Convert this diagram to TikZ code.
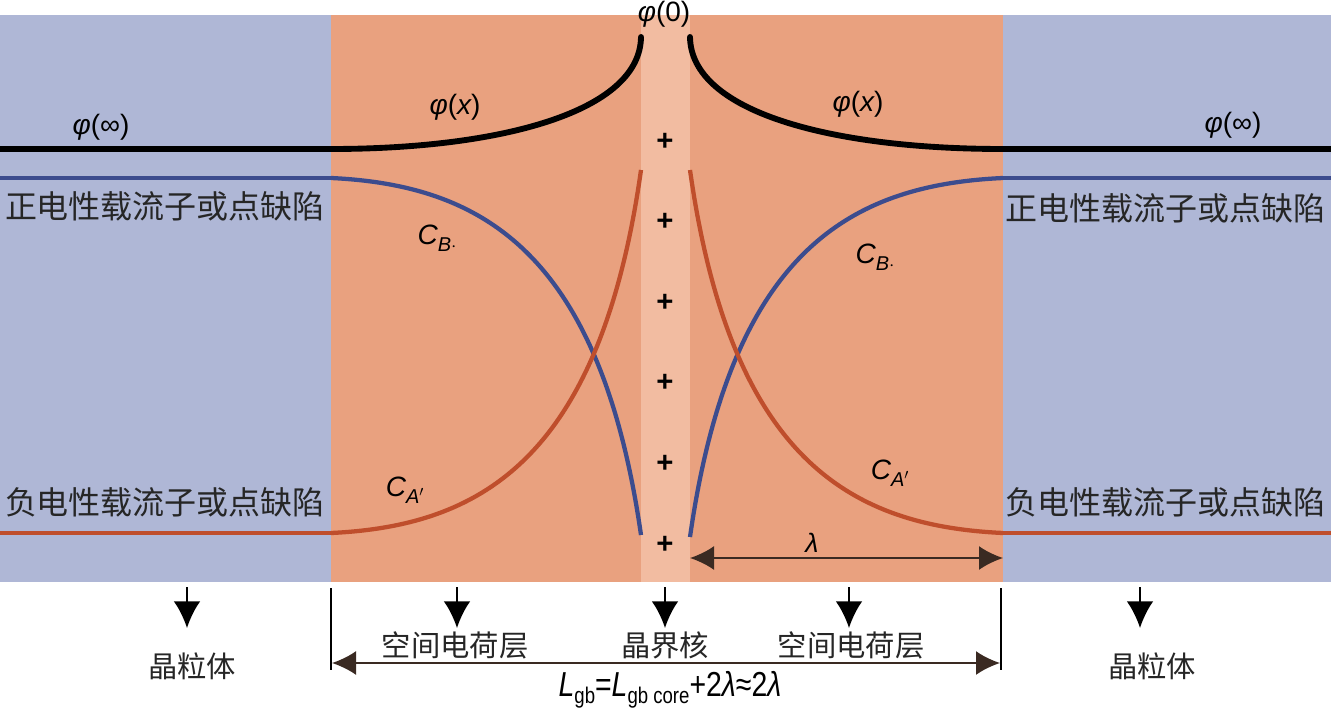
\documentclass[tikz,border=0pt]{standalone}
\usepackage{fontspec}
\setmainfont{Liberation Sans}
\newfontfamily\cjk{Noto Sans CJK SC}
\usetikzlibrary{arrows.meta}
\definecolor{grainblue}{HTML}{AFB7D6}
\definecolor{sclorange}{HTML}{E9A17F}
\definecolor{corepink}{HTML}{F2BCA1}
\definecolor{lineblue}{HTML}{3C4C8E}
\definecolor{linered}{HTML}{BF4E2C}
\definecolor{dimcol}{HTML}{3A2A22}
\begin{document}
\begin{tikzpicture}[x=0.75pt,y=-0.75pt,
  cnside/.style={font=\cjk\fontsize{24}{24}\selectfont, text=black!85, inner sep=0pt},
  cnbot/.style={font=\cjk\fontsize{22}{22}\selectfont, text=black!85, inner sep=0pt},
  sym/.style={font=\fontsize{21}{21}\selectfont, inner sep=0pt},
  plus/.style={font=\bfseries\fontsize{22}{22}\selectfont, inner sep=0pt},
  blackcurve/.style={line width=4.4pt, black, line cap=round},
  bluecurve/.style={line width=3.2pt, lineblue},
  redcurve/.style={line width=3.2pt, linered},
  downarr/.style={-{Latex[length=20pt,width=20pt]}, line width=1.8pt},
  dimarr/.style={{Latex[length=18pt,width=18pt]}-{Latex[length=18pt,width=18pt]}, line width=1.6pt, dimcol},
  bar/.style={line width=1.8pt}]
\useasboundingbox (0,0) rectangle (1331,710);
% panels
\fill[grainblue] (0,15) rectangle (331,582);
\fill[sclorange] (331,15) rectangle (641,582);
\fill[corepink] (641,15) rectangle (690,582);
\fill[sclorange] (690,15) rectangle (1003,582);
\fill[grainblue] (1003,15) rectangle (1331,582);
% flat lines in grains
\draw[blackcurve, line cap=butt] (0,149) -- (331,149);
\draw[blackcurve, line cap=butt] (1003,149) -- (1331,149);
\draw[bluecurve] (0,178) -- (331,178);
\draw[bluecurve] (1003,178) -- (1331,178);
\draw[redcurve] (0,533) -- (331,533);
\draw[redcurve] (1003,533) -- (1331,533);
% potential curves
\draw[blackcurve] (331,149) .. controls (500,149) and (640,112) .. (641,37);
\draw[blackcurve] (690,37) .. controls (691,112) and (831,149) .. (1003,149);
% concentration curves
\draw[bluecurve] (331,178) .. controls (480,185) and (600,250) .. (641,535);
\draw[redcurve] (331,533) .. controls (480,526) and (600,460) .. (641,170);
\draw[bluecurve] (690,537) .. controls (731,250) and (851,185) .. (1003,178);
\draw[redcurve] (690,170) .. controls (731,460) and (851,526) .. (1003,533);
% plus signs
\foreach \yy/\nm in {142/p1,222/p2,303/p3,383/p4,464/p5,545/p6}
  \node[plus] (\nm) at (665,\yy) {+};
% labels
\node[sym] (phi0) at (664,14) {\itshape φ\upshape(0)};
\node[sym] (phiinfL) at (101,127) {\itshape φ\upshape(∞)};
\node[sym] (phiinfR) at (1233,125) {\itshape φ\upshape(∞)};
\node[sym] (phixL) at (455,107) {\itshape φ\upshape(\itshape x\upshape)};
\node[sym] (phixR) at (858,104) {\itshape φ\upshape(\itshape x\upshape)};
\node[sym] (cbL) at (437,238) {\itshape C\fontsize{15}{15}\selectfont\raisebox{-5pt}{B$\cdot$}};
\node[sym] (cbR) at (875,257) {\itshape C\fontsize{15}{15}\selectfont\raisebox{-5pt}{B$\cdot$}};
\node[sym] (caL) at (405,490) {\itshape C\fontsize{15}{15}\selectfont\raisebox{-5pt}{A$'$}};
\node[sym] (caR) at (890,473) {\itshape C\fontsize{15}{15}\selectfont\raisebox{-5pt}{A$'$}};
\node[cnside] (posL) at (165,206) {正电性载流子或点缺陷};
\node[cnside] (posR) at (1165,208) {正电性载流子或点缺陷};
\node[cnside] (negL) at (165,502) {负电性载流子或点缺陷};
\node[cnside] (negR) at (1165,502) {负电性载流子或点缺陷};
% lambda dimension
\coordinate (lamA) at (690,558);
\coordinate (lamB) at (1003,558);
\draw[dimarr] (lamA) -- (lamB);
\node[sym, font=\itshape\fontsize{20}{20}\selectfont] (lam) at (812,543) {λ};
% bottom arrows
\foreach \xx/\nm in {187/g1,457/s1,665/c1,849/s2,1140/g2}{
  \coordinate (\nm top) at (\xx,587);
  \coordinate (\nm bot) at (\xx,628);
  \draw[downarr] (\nm top) -- (\nm bot);
}
\node[cnbot] (grainL) at (192,666) {晶粒体};
\node[cnbot] (sclL) at (455,645) {空间电荷层};
\node[cnbot] (coreN) at (665,645) {晶界核};
\node[cnbot] (sclR) at (851,645) {空间电荷层};
\node[cnbot] (grainR) at (1152,666) {晶粒体};
% L_gb dimension
\coordinate (barLt) at (331,588);
\coordinate (barLb) at (331,670);
\coordinate (barRt) at (1001,588);
\coordinate (barRb) at (1001,670);
\draw[bar] (barLt) -- (barLb);
\draw[bar] (barRt) -- (barRb);
\coordinate (LgA) at (332,663);
\coordinate (LgB) at (1000,663);
\draw[dimarr] (LgA) -- (LgB);
\node[sym, font=\fontsize{26}{26}\selectfont] (Lgb) at (670,690) {\scalebox{0.82}[1]{\itshape L\upshape\fontsize{17}{17}\selectfont\raisebox{-5pt}{gb}\fontsize{26}{26}\selectfont=\itshape L\upshape\fontsize{17}{17}\selectfont\raisebox{-5pt}{gb core}\fontsize{26}{26}\selectfont+2\itshape λ\upshape≈2\itshape λ}};
\end{tikzpicture}
\end{document}
